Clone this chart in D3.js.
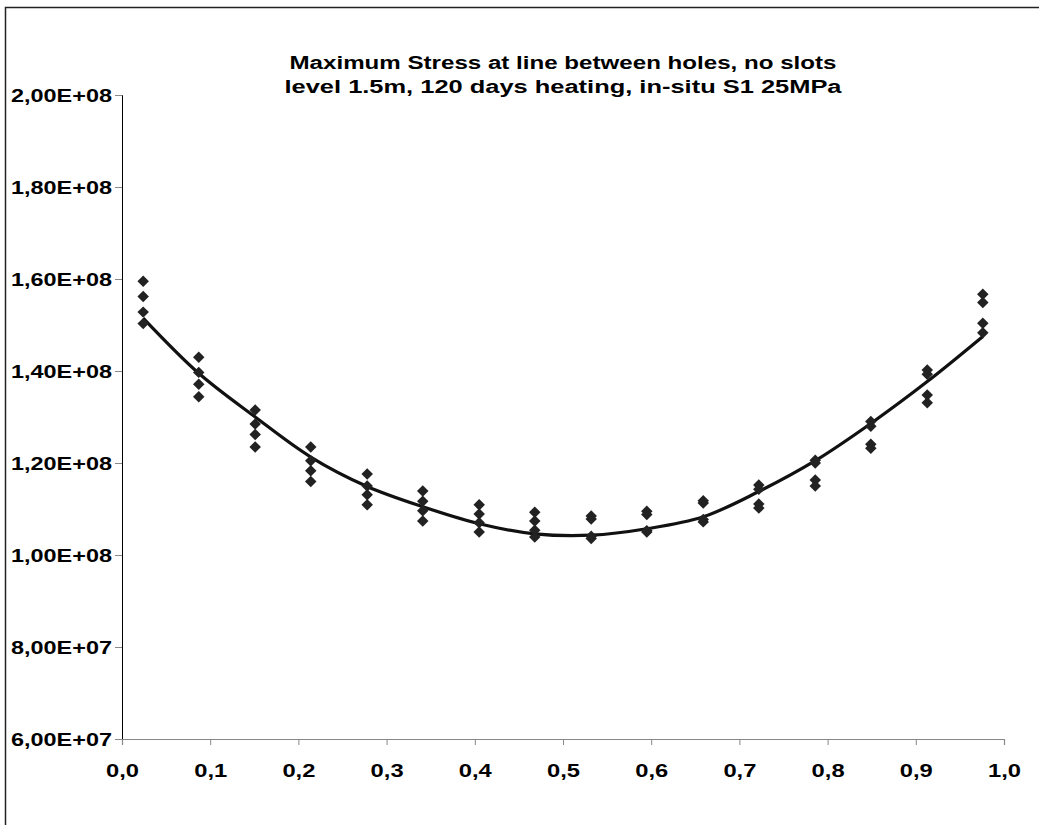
<!DOCTYPE html>
<html>
<head>
<meta charset="utf-8">
<script src="https://cdn.jsdelivr.net/npm/d3@7"></script>
<style>
  body { margin: 0; background: #fff; }
  svg { display: block; }
  text { font-family: "Liberation Sans", Arial, sans-serif; font-weight: bold; fill: #000; }
</style>
</head>
<body>
<script>
// position along the line between holes (0..1)
const positions = [0.024, 0.087, 0.151, 0.214, 0.278, 0.341, 0.405, 0.468,
                   0.532, 0.595, 0.659, 0.722, 0.786, 0.849, 0.913, 0.976];

// four result sets, max stress in units of 1e8 Pa
const run1 = [1.595, 1.430, 1.315, 1.235, 1.176, 1.139, 1.109, 1.093,
              1.085, 1.095, 1.118, 1.152, 1.206, 1.290, 1.402, 1.567];
const run2 = [1.562, 1.397, 1.285, 1.205, 1.150, 1.117, 1.089, 1.074,
              1.078, 1.088, 1.113, 1.143, 1.200, 1.280, 1.393, 1.549];
const run3 = [1.528, 1.371, 1.262, 1.183, 1.131, 1.096, 1.070, 1.054,
              1.041, 1.053, 1.077, 1.111, 1.163, 1.241, 1.348, 1.504];
const run4 = [1.503, 1.344, 1.235, 1.160, 1.109, 1.074, 1.050, 1.039,
              1.036, 1.050, 1.072, 1.102, 1.150, 1.232, 1.331, 1.483];

// smoothed line through the results
const trend = [1.515, 1.395, 1.300, 1.213, 1.149, 1.105, 1.068, 1.046,
               1.043, 1.057, 1.083, 1.138, 1.205, 1.286, 1.377, 1.475];

const yTicks = [6e7, 8e7, 1e8, 1.2e8, 1.4e8, 1.6e8, 1.8e8, 2e8];
const xTicks = [0, 0.1, 0.2, 0.3, 0.4, 0.5, 0.6, 0.7, 0.8, 0.9, 1.0];
const titleLines = ["Maximum Stress at line between holes, no slots",
                    "level 1.5m, 120 days heating, in-situ S1 25MPa"];
const titleWidths = [547, 557];

const W = 1039, H = 825;
const margin = { top: 95, right: 35, bottom: 86, left: 122 };

const svg = d3.select("body").append("svg")
    .attr("width", W)
    .attr("height", H);

// outer frame (only left and top edges visible)
svg.append("rect")
    .attr("x", 5.5).attr("y", 7.5)
    .attr("width", W + 10).attr("height", H + 10)
    .attr("fill", "none")
    .attr("stroke", "#222")
    .attr("stroke-width", 1.5);

const x = d3.scaleLinear().domain([0, 1]).range([margin.left, W - margin.right]);
const y = d3.scaleLinear().domain([6e7, 2e8]).range([H - margin.bottom, margin.top]);

const fmtY = v => d3.format(".2e")(v).replace(".", ",").replace("e+", "E+0").toUpperCase();
const fmtX = v => d3.format(".1f")(v).replace(".", ",");

// y axis
const yAxis = svg.append("g")
    .attr("transform", "translate(" + margin.left + ",0)")
    .call(d3.axisLeft(y).tickValues(yTicks).tickFormat(fmtY).tickSize(7).tickPadding(3));
yAxis.select(".domain").attr("stroke", "#000").attr("stroke-width", 1);
yAxis.selectAll(".tick line").attr("stroke", "#888");
yAxis.selectAll("text")
    .style("font-size", "19px")
    .attr("fill", "#000")
    .attr("textLength", 101)
    .attr("lengthAdjust", "spacingAndGlyphs");

// x axis
const xAxis = svg.append("g")
    .attr("transform", "translate(0," + y(6e7) + ")")
    .call(d3.axisBottom(x).tickValues(xTicks).tickFormat(fmtX).tickSize(6).tickPadding(19));
xAxis.select(".domain").attr("stroke", "#888").attr("stroke-width", 1.2);
xAxis.selectAll(".tick line").attr("stroke", "#888");
xAxis.selectAll("text")
    .style("font-size", "19px")
    .attr("fill", "#000")
    .attr("textLength", 33)
    .attr("lengthAdjust", "spacingAndGlyphs");

// title
svg.append("g").selectAll("text")
    .data(titleLines)
    .enter().append("text")
    .attr("x", (x(0) + x(1)) / 2)
    .attr("y", (d, i) => 69 + i * 24)
    .attr("text-anchor", "middle")
    .attr("textLength", (d, i) => titleWidths[i])
    .attr("lengthAdjust", "spacingAndGlyphs")
    .style("font-size", "18px")
    .text(d => d);

// trend line
const line = d3.line()
    .x((d, i) => x(positions[i]))
    .y(d => y(d * 1e8))
    .curve(d3.curveCatmullRom);

svg.append("path")
    .datum(trend)
    .attr("d", line)
    .attr("fill", "none")
    .attr("stroke", "#111")
    .attr("stroke-width", 3.2);

// scatter points
const points = [];
[run1, run2, run3, run4].forEach(run => {
    run.forEach((v, i) => points.push({ x: positions[i], v: v }));
});

const diamond = d3.symbol().type(d3.symbolSquare).size(66);
svg.append("g").selectAll("path")
    .data(points)
    .enter().append("path")
    .attr("d", diamond)
    .attr("transform", d => "translate(" + x(d.x) + "," + y(d.v * 1e8) + ") rotate(45)")
    .attr("fill", "#222");
</script>
</body>
</html>
